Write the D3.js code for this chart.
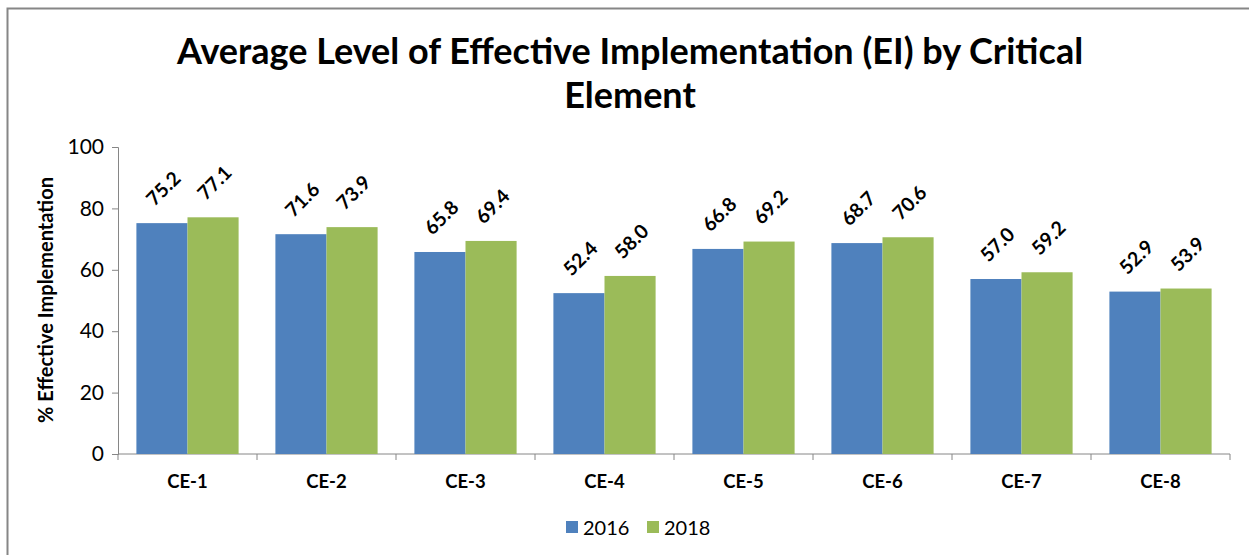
<!DOCTYPE html>
<html>
<head>
<meta charset="utf-8">
<script src="https://cdnjs.cloudflare.com/ajax/libs/d3/7.8.5/d3.min.js"></script>
<style>
  body { margin: 0; background: #fff; }
  text { font-family: Lato, "Open Sans", sans-serif; fill: #000; }
</style>
</head>
<body>
<div id="chart"></div>
<script>
// chart values
const categories = ['CE-1', 'CE-2', 'CE-3', 'CE-4', 'CE-5', 'CE-6', 'CE-7', 'CE-8'];
const seriesNames = ['2016', '2018'];
const values2016 = [75.2, 71.6, 65.8, 52.4, 66.8, 68.7, 57.0, 52.9];
const values2018 = [77.1, 73.9, 69.4, 58.0, 69.2, 70.6, 59.2, 53.9];
const yTicks = [0, 20, 40, 60, 80, 100];
const colors = ['#4F81BD', '#9BBB59'];

const W = 1249, H = 555;
let margin = {top: 147, right: 19, bottom: 101, left: 118},
  width = W - margin.left - margin.right,
  height = H - margin.top - margin.bottom;

const svg = d3.select('#chart')
  .append('svg')
  .attr('width', W)
  .attr('height', H);

// outer chart border (runs off the bottom/right of the picture)
svg.append('rect')
  .attr('x', 7.5).attr('y', 8.5)
  .attr('width', W + 20).attr('height', H + 20)
  .attr('fill', 'none')
  .attr('stroke', '#868686')
  .attr('stroke-width', 2);

// title
const title = svg.append('text')
  .attr('text-anchor', 'middle')
  .attr('font-weight', 'bold')
  .attr('font-size', 36);
title.append('tspan').attr('x', 630).attr('y', 64)
  .text('Average Level of Effective Implementation (EI) by Critical');
title.append('tspan').attr('x', 630).attr('y', 108)
  .text('Element');

const g = svg.append('g')
  .attr('transform', 'translate(' + margin.left + ',' + margin.top + ')');

const xScale = d3.scaleBand()
  .domain(categories)
  .range([0, width])
  .paddingInner(0)
  .paddingOuter(0);

const xSub = d3.scaleBand()
  .domain(seriesNames)
  .range([0, xScale.bandwidth()])
  .paddingOuter(0.36)
  .paddingInner(0);

const yScale = d3.scaleLinear()
  .domain([0, 100])
  .range([height, 0]);

// y axis
const yAxis = g.append('g')
  .call(d3.axisLeft(yScale).tickValues(yTicks).tickSize(6).tickPadding(8));
yAxis.select('.domain').attr('stroke', '#868686');
yAxis.selectAll('.tick line').attr('stroke', '#868686');
yAxis.selectAll('text').attr('font-size', 21).attr('fill', '#000');

// x axis: ticks at category boundaries
const xAxis = g.append('g')
  .attr('transform', 'translate(0,' + height + ')');
xAxis.append('line')
  .attr('x1', 0).attr('x2', width)
  .attr('stroke', '#868686');
xAxis.selectAll('.bound')
  .data(d3.range(categories.length + 1))
  .enter()
  .append('line')
  .attr('x1', (i) => i * xScale.step())
  .attr('x2', (i) => i * xScale.step())
  .attr('y1', 0).attr('y2', 6)
  .attr('stroke', '#868686');
xAxis.selectAll('.cat')
  .data(categories)
  .enter()
  .append('text')
  .attr('x', (d) => xScale(d) + xScale.bandwidth() / 2)
  .attr('y', 34)
  .attr('text-anchor', 'middle')
  .attr('font-size', 18.5)
  .attr('font-weight', 'bold')
  .text((d) => d);

// y axis title
svg.append('text')
  .attr('transform', 'translate(53,300) rotate(-90)')
  .attr('text-anchor', 'middle')
  .attr('font-size', 20)
  .attr('font-weight', 'bold')
  .text('% Effective Implementation');

// bars
const rows = categories.map((c, i) => ({
  cat: c,
  vals: [
    {series: '2016', value: values2016[i], color: colors[0]},
    {series: '2018', value: values2018[i], color: colors[1]}
  ]
}));

const groups = g.selectAll('.grp')
  .data(rows)
  .enter()
  .append('g')
  .attr('transform', (d) => 'translate(' + xScale(d.cat) + ',0)');

groups.selectAll('rect')
  .data((d) => d.vals)
  .enter()
  .append('rect')
  .attr('x', (d) => xSub(d.series))
  .attr('y', (d) => yScale(d.value))
  .attr('width', xSub.bandwidth())
  .attr('height', (d) => height - yScale(d.value))
  .attr('fill', (d) => d.color);

// rotated value labels
groups.selectAll('.lbl')
  .data((d) => d.vals)
  .enter()
  .append('text')
  .attr('transform', (d) => 'translate(' + (xSub(d.series) + xSub.bandwidth() / 2 + 1) + ',' +
    (yScale(d.value) - 35) + ') rotate(-45)')
  .attr('text-anchor', 'middle')
  .attr('dominant-baseline', 'central')
  .attr('font-size', 19.5)
  .attr('font-weight', 'bold')
  .text((d) => d.value.toFixed(1));

// legend
const legend = svg.append('g').attr('transform', 'translate(566,527)');
const items = legend.selectAll('g')
  .data(seriesNames)
  .enter()
  .append('g')
  .attr('transform', (d, i) => 'translate(' + (i * 81) + ',0)');
items.append('rect')
  .attr('x', 0).attr('y', -6)
  .attr('width', 12).attr('height', 12)
  .attr('fill', (d, i) => colors[i]);
items.append('text')
  .attr('x', 17).attr('y', 0)
  .attr('dominant-baseline', 'central')
  .attr('font-size', 20)
  .text((d) => d);
</script>
</body>
</html>
